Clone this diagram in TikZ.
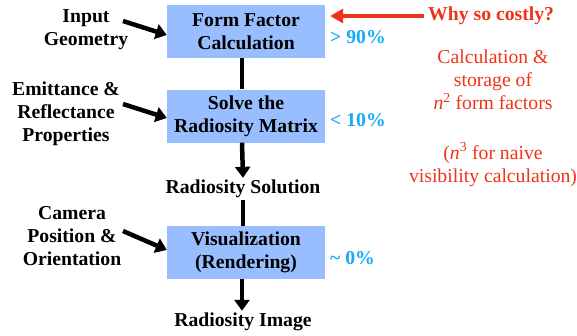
\documentclass[tikz,border=0pt]{standalone}
\usepackage{fontspec}
\setmainfont{Liberation Serif}
\usetikzlibrary{arrows.meta}
\definecolor{boxblue}{RGB}{153,190,255}
\definecolor{pctblue}{RGB}{20,170,250}
\definecolor{costred}{RGB}{240,50,25}
\tikzset{
  procbox/.style={fill=boxblue, minimum width=158pt, minimum height=53pt, inner sep=0pt, align=center, font=\fontsize{19.7}{23}\selectfont\bfseries},
  lbl/.style={align=center, inner sep=0pt, font=\fontsize{19.7}{23}\selectfont\bfseries},
  pct/.style={anchor=west, inner sep=0pt, text=pctblue, font=\fontsize{19.7}{23}\selectfont\bfseries},
  note/.style={align=center, inner sep=0pt, text=costred, font=\fontsize{19.7}{23}\selectfont},
  flow/.style={line width=4.5pt, -{Triangle[length=11pt,width=15pt]}},
  plain/.style={line width=4.5pt},
}
\begin{document}
\begin{tikzpicture}[x=1pt,y=-1pt]
\useasboundingbox (0,0) rectangle (577,335);
% process boxes
\node[procbox] (ff) at (246,31.5) {Form Factor\\Calculation};
\node[procbox] (solve) at (246,116) {Solve the\\Radiosity Matrix};
\node[procbox] (vis) at (246,252.5) {Visualization\\(Rendering)};
% intermediate results
\node[lbl, inner ysep=2pt] (sol) at (243,189) {Radiosity Solution};
\node[lbl, inner ysep=2pt] (img) at (243,322) {Radiosity Image};
% inputs
\node[lbl] (input) at (86,29.5) {Input\\Geometry};
\node[lbl] (emit) at (66,114) {Emittance \&\\Reflectance\\Properties};
\node[lbl] (cam) at (72,236) {Camera\\Position \&\\Orientation};
% percentages
\node[pct] (p1) at (330,37) {> 90\%};
\node[pct] (p2) at (330,120) {< 10\%};
\node[pct] (p3) at (330,258) {\textasciitilde\ 0\%};
% red annotations
\node[lbl, anchor=west, text=costred] (why) at (428,16) {Why so costly?};
\node[note] (calc) at (493,80) {Calculation \&\\storage of\\\textit{n}\textsuperscript{2} form factors};
\node[note] (naive) at (493,164.5) {(\textit{n}\textsuperscript{3} for naive\\visibility calculation)};
% coordinates for free arrow tails
\coordinate (a1) at (123,21);
\coordinate (a2) at (123,104);
\coordinate (a3) at (123,231);
% connectors
\draw[plain] ([xshift=-4pt]ff.south) -- ([xshift=-4pt]solve.north);
\draw[flow] ([xshift=-4pt]solve.south) -- (sol.north);
\draw[plain] (sol.south) -- (sol.south |- vis.north);
\draw[flow] ([xshift=-4pt]vis.south) -- ([xshift=-4pt]vis.south |- img.north);
\draw[flow] (a1) -- ([yshift=-3.5pt]ff.west);
\draw[flow] (a2) -- ([yshift=-2pt]solve.west);
\draw[flow] (a3) -- ([yshift=2.5pt]vis.west);
\draw[line width=4pt, costred, -{Triangle[length=13pt,width=14pt]}] ([xshift=-4pt]why.west) -- ([xshift=5pt]ff.east |- why.west);
\end{tikzpicture}
\end{document}
